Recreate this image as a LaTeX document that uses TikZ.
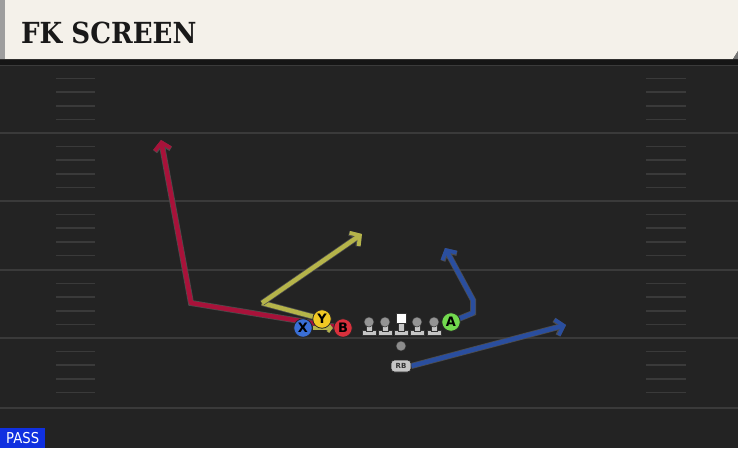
\documentclass[tikz,border=0pt]{standalone}
\usepackage{fontspec}
\usetikzlibrary{arrows.meta}
\newfontfamily\titlefont{DejaVu Serif}
\newfontfamily\uisans{DejaVu Sans}
\definecolor{fieldbg}{HTML}{232323}
\definecolor{yardc}{HTML}{3A3A3A}
\definecolor{bandc}{HTML}{151515}
\definecolor{headerc}{HTML}{F4F1EA}
\definecolor{stripec}{HTML}{9E9E9E}
\definecolor{redroute}{HTML}{A8123A}
\definecolor{yelroute}{HTML}{B5B44A}
\definecolor{bluroute}{HTML}{2A4E9E}
\definecolor{xblue}{HTML}{3A6FD6}
\definecolor{yyellow}{HTML}{F0C823}
\definecolor{bred}{HTML}{D9303C}
\definecolor{agreen}{HTML}{72D94E}
\definecolor{lmgray}{HTML}{C6C6C6}
\definecolor{passblue}{HTML}{1030E0}
\pgfdeclarelayer{bg}
\pgfdeclarelayer{routes}
\pgfsetlayers{bg,routes,main}
\tikzset{
  yardline/.style={draw=yardc, line width=2pt},
  hashline/.style={draw=yardc, line width=1.5pt},
  player/.style={circle, minimum size=18.5pt, inner sep=0pt, draw=black!85, line width=0.8pt,
     font=\uisans\bfseries\fontsize{13}{13}\selectfont, text=black},
  route/.style={line width=4.5pt, line join=round,
     preaction={draw=black!70, line width=6pt},
     -{Straight Barb[length=7pt,width=16pt,line width=0pt 0.85]}},
  routeplain/.style={line width=4.5pt, line join=round,
     preaction={draw=black!70, line width=6pt}},
  shortroute/.style={line width=3.5pt, line join=round,
     preaction={draw=black!70, line width=4.5pt},
     -{Straight Barb[length=3pt,width=8pt,line width=0pt 0.8]}},
  lineman/.pic={
     \fill[lmgray, draw=black!80, line width=0.5pt] (-7,8.5) rectangle (7,13.5);
     \fill[lmgray, draw=black!80, line width=0.5pt] (-3,0) rectangle (3,9);
     \fill[lmgray!75!black, draw=black!80, line width=0.5pt] (0,0) circle (5);
  },
  centerman/.pic={
     \fill[lmgray, draw=black!80, line width=0.5pt] (-7,8.5) rectangle (7,13.5);
     \fill[lmgray, draw=black!80, line width=0.5pt] (-3,0) rectangle (3,9);
     \fill[white, draw=black!80, line width=0.5pt] (-5,-9) rectangle (5,1);
  }
}
\begin{document}
\begin{tikzpicture}[x=1pt,y=-1pt]
\useasboundingbox (0,0) rectangle (738,448);
\begin{pgfonlayer}{bg}
\fill[fieldbg] (0,0) rectangle (738,448);
\fill[bandc] (0,58) rectangle (738,65);
\draw[draw=yardc, line width=1.2pt] (0,65.5) -- (738,65.5);
\foreach \yy in {133,201,270,338,408} {\draw[yardline] (0,\yy) -- (738,\yy);}
\foreach \bb in {65,133,201,270,338} {
  \foreach \k in {1,2,3,4} {
    \draw[hashline] (56,{\bb+13.6*\k}) -- (95,{\bb+13.6*\k});
    \draw[hashline] (646,{\bb+13.6*\k}) -- (686,{\bb+13.6*\k});
  }
}
\fill[headerc] (0,0) -- (738,0) -- (738,51) -- (733,59) -- (0,59) -- cycle;
\fill[black!55] (733,59) -- (738,51) -- (738,59) -- cycle;
\fill[stripec] (0,0) rectangle (5,59);
\end{pgfonlayer}

\node[anchor=base west, inner sep=0pt, text=black!90] (title) at (21,43)
  {\scalebox{0.9}[1]{\titlefont\bfseries\fontsize{29}{29}\selectfont FK SCREEN}};

\node[player, fill=xblue] (X) at (303,328) {X};
\node[player, fill=yyellow] (Y) at (322,319) {Y};
\node[player, fill=bred] (B) at (343,328) {B};
\node[player, fill=agreen] (A) at (451,322) {A};
\pic (LT) at (369,322) {lineman};
\pic (LG) at (385,322) {lineman};
\pic (C) at (401,322) {centerman};
\pic (RG) at (417,322) {lineman};
\pic (RT) at (434,322) {lineman};
\node[circle, fill=black!45, draw=black!80, line width=0.5pt, minimum size=10pt, inner sep=0pt] (ball) at (401,346) {};
\node[rectangle, rounded corners=3.5pt, fill=lmgray, draw=black!85, line width=0.7pt,
      minimum width=20pt, minimum height=12pt, inner sep=0pt,
      font=\uisans\bfseries\fontsize{7}{7}\selectfont, text=black!80] (RB) at (401,366) {RB};

\coordinate (r1) at (191,303);
\coordinate (r2) at (161,140);
\coordinate (y1) at (262,303);
\coordinate (y2) at (362,234);
\coordinate (a1) at (473,313);
\coordinate (a2) at (473,300);
\coordinate (a3) at (445,248);
\coordinate (b1) at (566,325);
\begin{pgfonlayer}{routes}
\draw[route, redroute] (B.center) -- (r1) -- (r2);
\draw[routeplain, yelroute] (Y.center) -- (y1);
\draw[route, yelroute] (y1) -- (y2);
\draw[shortroute, yelroute] (X.east) -- ([xshift=-0.5pt]B.west);
\draw[route, bluroute] (A.center) -- (a1) -- (a2) -- (a3);
\draw[route, bluroute] (RB.east) -- (b1);
\end{pgfonlayer}

\node[anchor=south west, fill=passblue, text=white, inner sep=0pt, minimum width=45pt, minimum height=20pt]
  (pass) at (0,448) {\scalebox{0.88}[1]{\uisans\fontsize{15}{15}\selectfont PASS}};
\end{tikzpicture}
\end{document}
